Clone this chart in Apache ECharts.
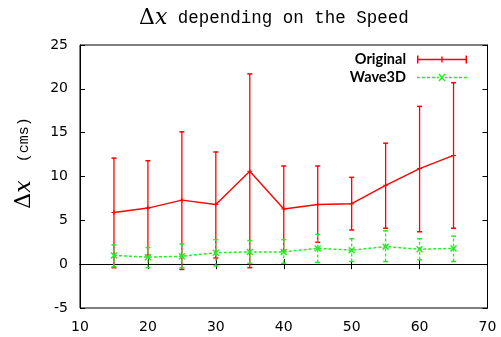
<!DOCTYPE html>
<html>
<head>
<meta charset="utf-8">
<script src="https://cdn.jsdelivr.net/npm/echarts@6/dist/echarts.min.js"></script>
<style>html,body{margin:0;padding:0;background:#fff;}#c{width:501px;height:337px;}</style>
</head>
<body>
<div id="c"></div>
<script>
// ---- data ----
var speeds = [15, 20, 25, 30, 35, 40, 45, 50, 55, 60, 65];
var origMean = [5.9, 6.4, 7.3, 6.8, 10.6, 6.3, 6.8, 6.9, 9.0, 10.9, 12.4];
var origLow  = [-0.4, 1.0, -0.6, 0.7, -0.4, 1.5, 2.5, 3.9, 4.1, 3.7, 4.1];
var origHigh = [12.1, 11.8, 15.1, 12.8, 21.7, 11.2, 11.2, 9.9, 13.8, 18.0, 20.7];
var waveMean = [1.0, 0.8, 0.9, 1.3, 1.4, 1.4, 1.8, 1.6, 2.0, 1.7, 1.8];
var waveLow  = [-0.3, -0.4, -0.4, -0.2, 0.1, 0.1, 0.2, 0.3, 0.3, 0.5, 0.3];
var waveHigh = [2.2, 1.9, 2.3, 2.8, 2.7, 2.8, 3.4, 2.9, 3.8, 2.9, 3.2];
var xTicks = {min: 10, max: 70, interval: 10};
var yTicks = {min: -5, max: 25, interval: 5};
var seriesNames = ['Original', 'Wave3D'];

var RED = '#ff0000', GREEN = '#22ee22';

function pairs(xs, ys) { return xs.map(function (x, i) { return [x, ys[i]]; }); }
function triples(xs, lo, hi) { return xs.map(function (x, i) { return [x, lo[i], hi[i]]; }); }

function errRender(color, dash) {
  return function (params, api) {
    var x = api.value(0), lo = api.value(1), hi = api.value(2);
    var a = api.coord([x, lo]), b = api.coord([x, hi]);
    var w = 2.5;
    var st = {stroke: color, lineWidth: 1.3, lineDash: dash, fill: null};
    return {type: 'group', children: [
      {type: 'line', shape: {x1: a[0], y1: a[1], x2: b[0], y2: b[1]}, style: st},
      {type: 'line', shape: {x1: a[0] - w, y1: a[1], x2: a[0] + w, y2: a[1]}, style: {stroke: color, lineWidth: 1.5}},
      {type: 'line', shape: {x1: b[0] - w, y1: b[1], x2: b[0] + w, y2: b[1]}, style: {stroke: color, lineWidth: 1.5}}
    ]};
  };
}

var plusPath = 'path://M4,0H6V4H10V6H6V10H4V6H0V4H4Z';
var xPath = 'path://M0,1.5L1.5,0L5,3.5L8.5,0L10,1.5L6.5,5L10,8.5L8.5,10L5,6.5L1.5,10L0,8.5L3.5,5Z';
var legOrig = 'path://M0,0H1.5V8H0ZM48.5,0H50V8H48.5ZM0,3.3H50V4.7H0ZM24.3,1H25.7V7H24.3Z';
var legWave = 'path://M0,3.3H3V4.7H0ZM5,3.3H8V4.7H5ZM10,3.3H13V4.7H10ZM15,3.3H18V4.7H15ZM20,3.3H22V4.7H20ZM28,3.3H30V4.7H28ZM32,3.3H35V4.7H32ZM37,3.3H40V4.7H37ZM42,3.3H45V4.7H42ZM47,3.3H50V4.7H47Z' +
  'M21.5,1L22.5,0L25,2.8L27.5,0L28.5,1L25.9,4L28.5,7L27.5,8L25,5.2L22.5,8L21.5,7L24.1,4Z';

var labelStyle = {color: '#000', fontSize: 14, fontFamily: 'DejaVu Sans'};

var chart = echarts.init(document.getElementById('c'), null, {renderer: 'canvas'});
chart.setOption({
  animation: false,
  backgroundColor: '#fff',
  grid: {left: 80, right: 13.5, top: 45, bottom: 29, show: true, borderColor: '#000', borderWidth: 1, backgroundColor: 'transparent'},
  xAxis: [
    {type: 'value', min: xTicks.min, max: xTicks.max, interval: xTicks.interval, position: 'bottom',
     axisLine: {lineStyle: {color: '#000'}}, axisTick: {inside: true, length: 5, lineStyle: {color: '#000'}},
     axisLabel: Object.assign({margin: 12}, labelStyle), splitLine: {show: false}},
    {type: 'value', min: xTicks.min, max: xTicks.max, interval: xTicks.interval, position: 'top',
     axisLine: {lineStyle: {color: '#000'}}, axisTick: {inside: true, length: 5, lineStyle: {color: '#000'}},
     axisLabel: {show: false}, splitLine: {show: false}}
  ],
  yAxis: [
    {type: 'value', min: yTicks.min, max: yTicks.max, interval: yTicks.interval, position: 'left',
     axisLine: {show: true, lineStyle: {color: '#000'}}, axisTick: {show: true, inside: true, length: 5, lineStyle: {color: '#000'}},
     axisLabel: Object.assign({margin: 12}, labelStyle), splitLine: {show: false}},
    {type: 'value', min: yTicks.min, max: yTicks.max, interval: yTicks.interval, position: 'right',
     axisLine: {show: true, lineStyle: {color: '#000'}}, axisTick: {show: true, inside: true, length: 5, lineStyle: {color: '#000'}},
     axisLabel: {show: false}, splitLine: {show: false}}
  ],
  legend: {
    orient: 'vertical', align: 'right', right: 29, top: 47, itemWidth: 50, itemHeight: 8, itemGap: 3,
    textStyle: {fontFamily: 'Lato', fontWeight: 'bold', fontSize: 14.5, color: '#000', padding: [0, 6, 0, 0]},
    data: [{name: seriesNames[0], icon: legOrig}, {name: seriesNames[1], icon: legWave}]
  },
  graphic: [
    {type: 'text', left: 139, top: 7, style: {
      text: '{d|Δ}{x|x}{m| depending on the Speed}',
      rich: {
        d: {fontFamily: 'DejaVu Serif', fontSize: 22, fill: '#000'},
        x: {fontFamily: 'DejaVu Serif', fontStyle: 'italic', fontSize: 22, fill: '#000'},
        m: {fontFamily: 'Liberation Mono', fontSize: 17.5, fill: '#000'}
      }}},
    {type: 'text', x: 24, y: 163, rotation: Math.PI / 2, style: {
      text: '{d|Δ}{x|x}{m|  (cms)}', align: 'center', verticalAlign: 'middle',
      rich: {
        d: {fontFamily: 'DejaVu Serif', fontSize: 22, fill: '#000'},
        x: {fontFamily: 'DejaVu Serif', fontStyle: 'italic', fontSize: 22, fill: '#000'},
        m: {fontFamily: 'Liberation Mono', fontSize: 15, fill: '#000'}
      }}}
  ],
  series: [
    {name: 'origErr', type: 'custom', renderItem: errRender(RED, null), data: triples(speeds, origLow, origHigh),
     encode: {x: 0, y: [1, 2]}, z: 2, silent: true},
    {name: seriesNames[0], type: 'line', data: pairs(speeds, origMean), color: RED,
     lineStyle: {color: RED, width: 1.4}, symbol: plusPath, symbolSize: 5, itemStyle: {color: RED}, z: 3},
    {name: 'waveErr', type: 'custom', renderItem: errRender(GREEN, [3, 2]), data: triples(speeds, waveLow, waveHigh),
     encode: {x: 0, y: [1, 2]}, z: 4, silent: true},
    {name: seriesNames[1], type: 'line', data: pairs(speeds, waveMean), color: GREEN,
     lineStyle: {color: GREEN, width: 1.5, type: [3, 2]}, symbol: xPath, symbolSize: 7, itemStyle: {color: GREEN}, z: 5}
  ]
});
</script>
</body>
</html>
